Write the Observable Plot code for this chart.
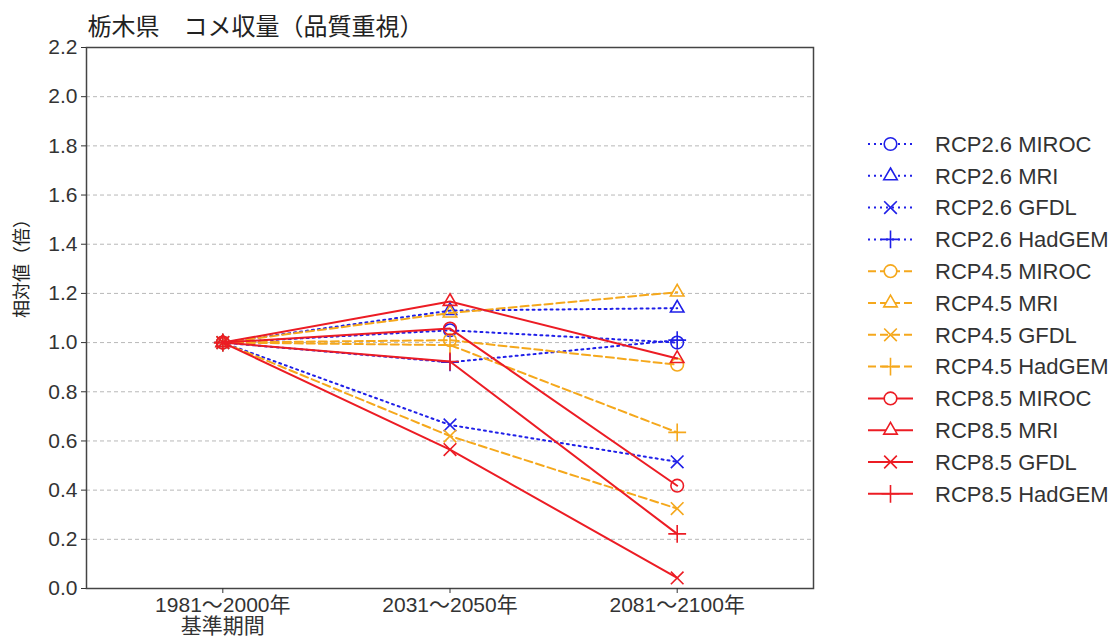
<!DOCTYPE html>
<html>
<head>
<meta charset="utf-8">
<script src="https://cdn.jsdelivr.net/npm/d3@7"></script>
<script src="https://cdn.jsdelivr.net/npm/@observablehq/plot@0.6"></script>
<style>
  body { margin: 0; background: #fff; }
  #chart { position: relative; width: 1114px; height: 643px; }
</style>
</head>
<body>
<div id="chart"></div>
<script>
const title = "栃木県　コメ収量（品質重視）";
const yLabel = "相対値（倍）";
const periods = ["1981～2000年\n基準期間", "2031～2050年", "2081～2100年"];
const yTicks = [0, 0.2, 0.4, 0.6, 0.8, 1.0, 1.2, 1.4, 1.6, 1.8, 2.0, 2.2];

const scenarios = ["RCP2.6", "RCP4.5", "RCP8.5"];
const models = ["MIROC", "MRI", "GFDL", "HadGEM"];

// values per period: 1981-2000, 2031-2050, 2081-2100
const rcp26_MIROC  = [1.00, 1.05, 1.00];
const rcp26_MRI    = [1.00, 1.13, 1.14];
const rcp26_GFDL   = [1.00, 0.665, 0.515];
const rcp26_HadGEM = [1.00, 0.92, 1.01];
const rcp45_MIROC  = [1.00, 1.01, 0.91];
const rcp45_MRI    = [1.00, 1.12, 1.205];
const rcp45_GFDL   = [1.00, 0.62, 0.325];
const rcp45_HadGEM = [1.00, 0.99, 0.635];
const rcp85_MIROC  = [1.00, 1.057, 0.418];
const rcp85_MRI    = [1.00, 1.167, 0.935];
const rcp85_GFDL   = [1.00, 0.565, 0.043];
const rcp85_HadGEM = [1.00, 0.923, 0.222];

const seriesValues = {
  "RCP2.6": [rcp26_MIROC, rcp26_MRI, rcp26_GFDL, rcp26_HadGEM],
  "RCP4.5": [rcp45_MIROC, rcp45_MRI, rcp45_GFDL, rcp45_HadGEM],
  "RCP8.5": [rcp85_MIROC, rcp85_MRI, rcp85_GFDL, rcp85_HadGEM]
};

const scenarioStyle = {
  "RCP2.6": {stroke: "#1f1fe8", dash: "2,4"},
  "RCP4.5": {stroke: "#f5a81c", dash: "8,4"},
  "RCP8.5": {stroke: "#ec1c24", dash: null}
};
const modelSymbol = {MIROC: "circle", MRI: "triangle", GFDL: "times", HadGEM: "plus"};
const modelR = {MIROC: 6.3, MRI: 5, GFDL: 5.8, HadGEM: 5.8};

const rows = [];
for (const s of scenarios) {
  models.forEach((m, mi) => {
    seriesValues[s][mi].forEach((v, i) => rows.push({i, v, scenario: s, model: m, key: s + " " + m}));
  });
}

const latin = "'Liberation Sans', 'Noto Sans CJK JP', sans-serif";

const marks = [
  Plot.ruleY(yTicks.filter(d => d > 0 && d < 2.2), {stroke: "#b8b8b8", strokeDasharray: "4,3", strokeWidth: 1}),
];
for (const s of scenarios) {
  const st = scenarioStyle[s];
  marks.push(Plot.line(rows.filter(d => d.scenario === s), {
    x: "i", y: "v", z: "key", stroke: st.stroke, strokeWidth: 2,
    strokeDasharray: st.dash || undefined
  }));
  for (const m of models) {
    marks.push(Plot.dot(rows.filter(d => d.scenario === s && d.model === m), {
      x: "i", y: "v", symbol: modelSymbol[m], r: modelR[m],
      stroke: st.stroke, fill: "none", strokeWidth: 1.6
    }));
  }
}
marks.push(
  Plot.frame({stroke: "#444", strokeWidth: 1.5}),
  Plot.axisY({ticks: yTicks, tickFormat: d3.format(".1f"), tickSize: 5, tickPadding: 4,
    fontSize: 21, label: null, stroke: "#333"}),
  Plot.axisX({ticks: [0, 1, 2], tickFormat: i => periods[i], tickSize: 5, tickPadding: 4,
    fontSize: 21, lineHeight: 1, label: null, stroke: "#333"}),
  Plot.text([yLabel], {frameAnchor: "left", rotate: -90, dx: -64, fontSize: 18, fill: "#222"}),
  Plot.text([title], {frameAnchor: "top-left", textAnchor: "start", lineAnchor: "middle", dy: -20, dx: 1, fontSize: 24, fill: "#222"})
);

const chart = Plot.plot({
  width: 1114, height: 643,
  marginLeft: 86, marginRight: 301, marginTop: 47, marginBottom: 55,
  style: {fontFamily: latin, color: "#333", background: "#fff"},
  x: {domain: [-0.6, 2.6]},
  y: {domain: [0, 2.2]},
  marks
});
document.getElementById("chart").appendChild(chart);

// legend (drawn inside the svg)
const svg = d3.select(chart);
const lg = svg.append("g").attr("font-family", latin).attr("font-size", 22)
  .attr("fill", "#333").attr("text-anchor", "start");
const entries = [];
for (const s of scenarios) for (const m of models) entries.push({s, m});
const symbolTypes = {circle: d3.symbolCircle, triangle: d3.symbolTriangle, times: d3.symbolTimes, plus: d3.symbolPlus};
entries.forEach((e, k) => {
  const y = 144 + k * 31.8;
  const st = scenarioStyle[e.s];
  const g = lg.append("g").attr("transform", `translate(0,${y})`);
  g.append("line").attr("x1", 868).attr("x2", 913).attr("y1", 0).attr("y2", 0)
    .attr("stroke", st.stroke).attr("stroke-width", 2)
    .attr("stroke-dasharray", st.dash);
  const r = modelR[e.m];
  g.append("path").attr("transform", "translate(890.5,0)")
    .attr("d", d3.symbol(symbolTypes[modelSymbol[e.m]], r * r * Math.PI)())
    .attr("fill", "#fff").attr("stroke", st.stroke).attr("stroke-width", 1.6);
  g.append("text").attr("x", 935).attr("y", 0).attr("dy", "0.35em")
    .attr("text-anchor", "start").text(e.s + " " + e.m);
});
</script>
</body>
</html>
